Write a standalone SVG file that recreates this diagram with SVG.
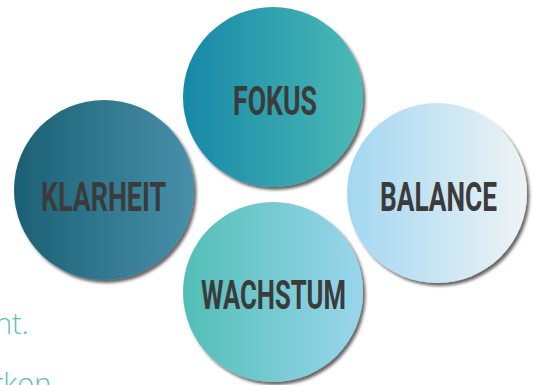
<svg xmlns="http://www.w3.org/2000/svg" width="533" height="385" viewBox="0 0 533 385">
<defs>
<style>
.lbl{font-family:"Roboto","DejaVu Sans Condensed","Liberation Sans",sans-serif;font-weight:bold;font-size:41px;fill:#3b3b3b}
.side{font-family:"Open Sans","Lato","Liberation Sans",sans-serif;font-weight:300;font-size:29px;fill:#5cc0b6}
.c{filter:url(#sh)}
</style>
<filter id="sh" x="-20%" y="-20%" width="140%" height="140%">
<feDropShadow dx="2.5" dy="3" stdDeviation="1.8" flood-color="#000" flood-opacity="0.6"/>
</filter>
<linearGradient id="gF" x1="0" y1="0" x2="1" y2="0"><stop offset="0" stop-color="#1788a8"/><stop offset="1" stop-color="#4bbab4"/></linearGradient>
<linearGradient id="gK" x1="0" y1="0" x2="1" y2="0"><stop offset="0" stop-color="#1c6074"/><stop offset="1" stop-color="#4790aa"/></linearGradient>
<linearGradient id="gB" x1="0" y1="0" x2="1" y2="0"><stop offset="0" stop-color="#a2d7f1"/><stop offset="1" stop-color="#eff3f5"/></linearGradient>
<linearGradient id="gW" x1="0" y1="0" x2="1" y2="0"><stop offset="0" stop-color="#52beb6"/><stop offset="1" stop-color="#9ad6ec"/></linearGradient>
</defs>
<rect width="533" height="385" fill="#fff"/>
<text class="side" x="-5" y="334">nt.</text>
<text class="side" x="-8" y="394">rkon</text>
<g id="connectors"/>
<g id="fokus"><circle class="c" cx="273" cy="97" r="90" fill="url(#gF)"/><text class="lbl" x="233" y="115" textLength="84" lengthAdjust="spacingAndGlyphs">FOKUS</text></g>
<g id="klarheit"><circle class="c" cx="104" cy="190" r="90" fill="url(#gK)"/><text class="lbl" x="41" y="211" textLength="125" lengthAdjust="spacingAndGlyphs">KLARHEIT</text></g>
<g id="balance"><circle class="c" cx="437" cy="193" r="90" fill="url(#gB)"/><text class="lbl" x="380" y="211" textLength="117" lengthAdjust="spacingAndGlyphs">BALANCE</text></g>
<g id="wachstum"><circle class="c" cx="273" cy="292" r="90" fill="url(#gW)"/><text class="lbl" x="201" y="309" textLength="145" lengthAdjust="spacingAndGlyphs">WACHSTUM</text></g>
</svg>
